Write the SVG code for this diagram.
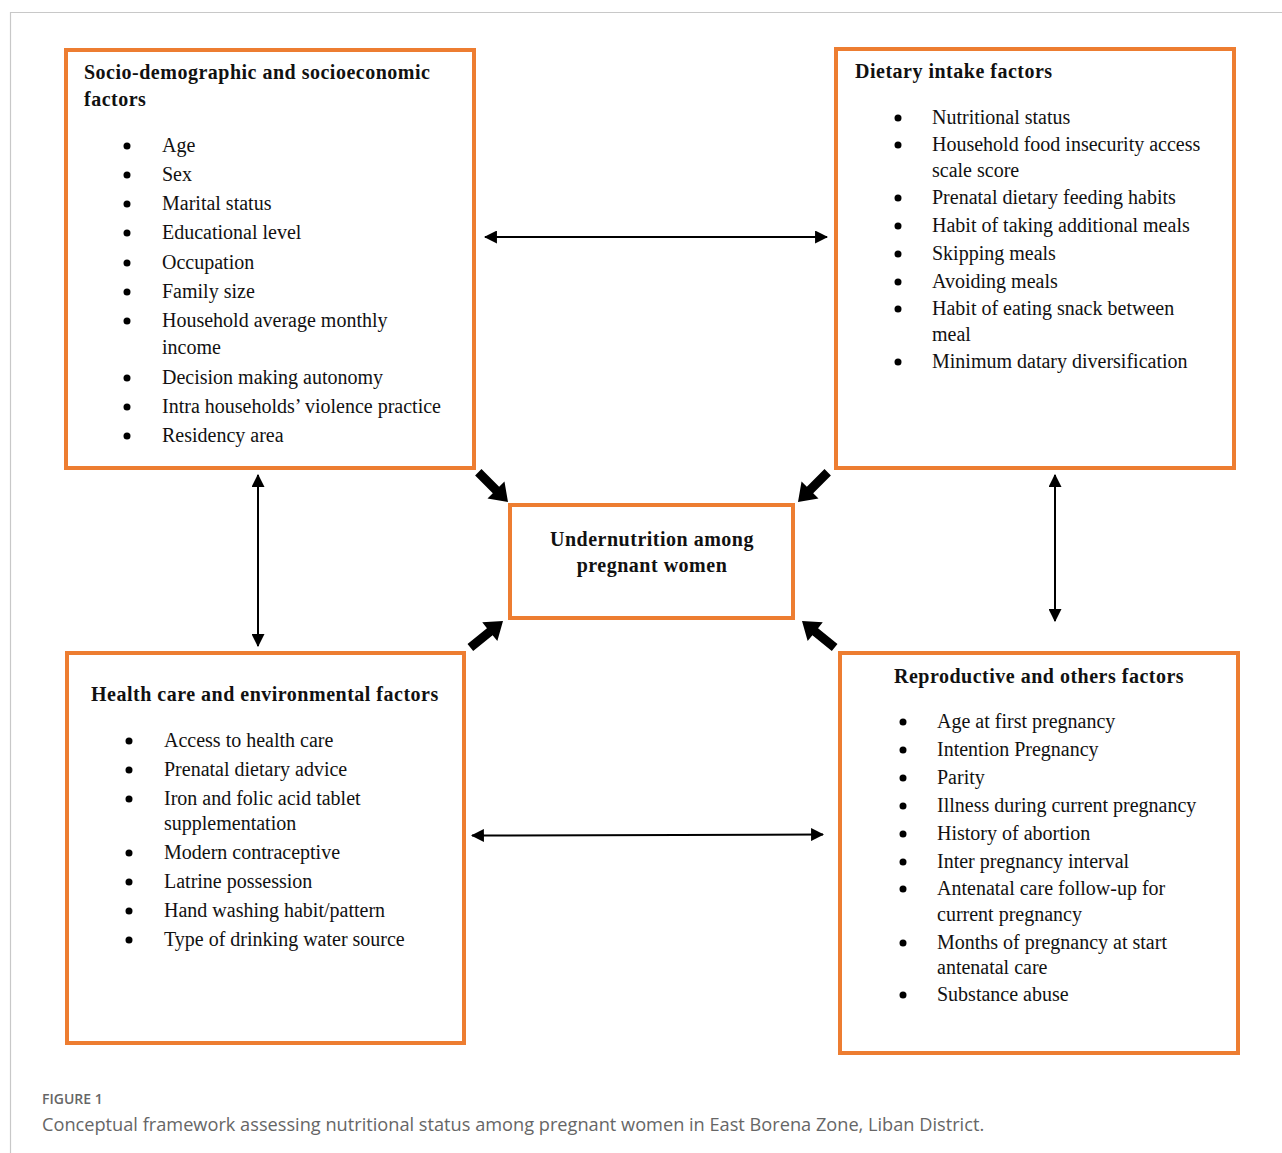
<svg xmlns="http://www.w3.org/2000/svg" width="1282" height="1153" viewBox="0 0 1282 1153">
<style>
.box{fill:#fff;stroke:#ED7D31;stroke-width:4}
.t{font-family:"Liberation Serif",serif;font-size:20px;fill:#111}
.h{font-family:"Liberation Serif",serif;font-size:20px;font-weight:bold;fill:#111;letter-spacing:0.5px}
.b{fill:#000}
.ln{stroke:#000;stroke-width:2;fill:none}
.cap1{font-family:"Open Sans","Liberation Sans",sans-serif;font-size:14px;font-weight:600;fill:#666}
.cap2{font-family:"Open Sans","Liberation Sans",sans-serif;font-size:18.2px;fill:#666}
</style>
<defs>
<marker id="ahm" viewBox="0 0 12 12" refX="11" refY="6" markerWidth="13" markerHeight="13" orient="auto-start-reverse" markerUnits="userSpaceOnUse">
<path d="M0,0 L12,6 L0,12 z" fill="#000"/>
</marker>
<polygon id="blk" points="-42,-4.5 -17,-4.5 -17,-12 0,0 -17,12 -17,4.5 -42,4.5" fill="#000"/>
</defs>
<rect width="1282" height="1153" fill="#fff"/>
<path d="M10.5,1153 V12.5 H1282" fill="none" stroke="#c8c8c8" stroke-width="1.2"/>

<g id="connectors">
<line class="ln" x1="485" y1="237" x2="827" y2="237" marker-start="url(#ahm)" marker-end="url(#ahm)"/>
<line class="ln" x1="472" y1="835.5" x2="823" y2="834.5" marker-start="url(#ahm)" marker-end="url(#ahm)"/>
<line class="ln" x1="258" y1="475" x2="258" y2="646" marker-start="url(#ahm)" marker-end="url(#ahm)"/>
<line class="ln" x1="1055" y1="475" x2="1055" y2="621" marker-start="url(#ahm)" marker-end="url(#ahm)"/>
<use href="#blk" transform="translate(508,502) rotate(45)"/>
<use href="#blk" transform="translate(798,502) rotate(135)"/>
<use href="#blk" transform="translate(503,621) rotate(-39)"/>
<use href="#blk" transform="translate(802,621) rotate(-141)"/>
</g>

<g id="socio">
<rect class="box" x="66" y="50" width="408" height="418"/>
<text class="h" x="84" y="79">Socio-demographic and socioeconomic</text>
<text class="h" x="84" y="106">factors</text>
<g class="b">
<circle cx="127" cy="146" r="3.5"/><circle cx="127" cy="175" r="3.5"/><circle cx="127" cy="204" r="3.5"/><circle cx="127" cy="233" r="3.5"/><circle cx="127" cy="263" r="3.5"/><circle cx="127" cy="292" r="3.5"/><circle cx="127" cy="321" r="3.5"/><circle cx="127" cy="378" r="3.5"/><circle cx="127" cy="407" r="3.5"/><circle cx="127" cy="436" r="3.5"/>
</g>
<text class="t" x="162" y="152">Age</text>
<text class="t" x="162" y="181">Sex</text>
<text class="t" x="162" y="210">Marital status</text>
<text class="t" x="162" y="239">Educational level</text>
<text class="t" x="162" y="269">Occupation</text>
<text class="t" x="162" y="298">Family size</text>
<text class="t" x="162" y="327">Household average monthly</text>
<text class="t" x="162" y="354">income</text>
<text class="t" x="162" y="384">Decision making autonomy</text>
<text class="t" x="162" y="413">Intra households’ violence practice</text>
<text class="t" x="162" y="442">Residency area</text>
</g>

<g id="dietary">
<rect class="box" x="836" y="49" width="398" height="419"/>
<text class="h" x="855" y="78">Dietary intake factors</text>
<g class="b">
<circle cx="898" cy="118" r="3.5"/><circle cx="898" cy="145" r="3.5"/><circle cx="898" cy="198" r="3.5"/><circle cx="898" cy="226" r="3.5"/><circle cx="898" cy="254" r="3.5"/><circle cx="898" cy="282" r="3.5"/><circle cx="898" cy="309" r="3.5"/><circle cx="898" cy="362" r="3.5"/>
</g>
<text class="t" x="932" y="124">Nutritional status</text>
<text class="t" x="932" y="151">Household food insecurity access</text>
<text class="t" x="932" y="177">scale score</text>
<text class="t" x="932" y="204">Prenatal dietary feeding habits</text>
<text class="t" x="932" y="232">Habit of taking additional meals</text>
<text class="t" x="932" y="260">Skipping meals</text>
<text class="t" x="932" y="288">Avoiding meals</text>
<text class="t" x="932" y="315">Habit of eating snack between</text>
<text class="t" x="932" y="341">meal</text>
<text class="t" x="932" y="368">Minimum datary diversification</text>
</g>

<g id="center">
<rect class="box" x="510" y="505" width="283" height="113"/>
<text class="h" x="652" y="546" text-anchor="middle">Undernutrition among</text>
<text class="h" x="652" y="572" text-anchor="middle">pregnant women</text>
</g>

<g id="health">
<rect class="box" x="67" y="653" width="397" height="390"/>
<text class="h" x="91" y="701">Health care and environmental factors</text>
<g class="b">
<circle cx="129" cy="741" r="3.5"/><circle cx="129" cy="770" r="3.5"/><circle cx="129" cy="799" r="3.5"/><circle cx="129" cy="853" r="3.5"/><circle cx="129" cy="882" r="3.5"/><circle cx="129" cy="911" r="3.5"/><circle cx="129" cy="940" r="3.5"/>
</g>
<text class="t" x="164" y="747">Access to health care</text>
<text class="t" x="164" y="776">Prenatal dietary advice</text>
<text class="t" x="164" y="805">Iron and folic acid tablet</text>
<text class="t" x="164" y="830">supplementation</text>
<text class="t" x="164" y="859">Modern contraceptive</text>
<text class="t" x="164" y="888">Latrine possession</text>
<text class="t" x="164" y="917">Hand washing habit/pattern</text>
<text class="t" x="164" y="946">Type of drinking water source</text>
</g>

<g id="reproductive">
<rect class="box" x="840" y="653" width="398" height="400"/>
<text class="h" x="894" y="683">Reproductive and others factors</text>
<g class="b">
<circle cx="903" cy="722" r="3.5"/><circle cx="903" cy="750" r="3.5"/><circle cx="903" cy="778" r="3.5"/><circle cx="903" cy="806" r="3.5"/><circle cx="903" cy="834" r="3.5"/><circle cx="903" cy="862" r="3.5"/><circle cx="903" cy="889" r="3.5"/><circle cx="903" cy="943" r="3.5"/><circle cx="903" cy="995" r="3.5"/>
</g>
<text class="t" x="937" y="728">Age at first pregnancy</text>
<text class="t" x="937" y="756">Intention Pregnancy</text>
<text class="t" x="937" y="784">Parity</text>
<text class="t" x="937" y="812">Illness during current pregnancy</text>
<text class="t" x="937" y="840">History of abortion</text>
<text class="t" x="937" y="868">Inter pregnancy interval</text>
<text class="t" x="937" y="895">Antenatal care follow-up for</text>
<text class="t" x="937" y="921">current pregnancy</text>
<text class="t" x="937" y="949">Months of pregnancy at start</text>
<text class="t" x="937" y="974">antenatal care</text>
<text class="t" x="937" y="1001">Substance abuse</text>
</g>

<g id="caption">
<text class="cap1" x="42" y="1104">FIGURE 1</text>
<text class="cap2" x="42" y="1131">Conceptual framework assessing nutritional status among pregnant women in East Borena Zone, Liban District.</text>
</g>
</svg>
